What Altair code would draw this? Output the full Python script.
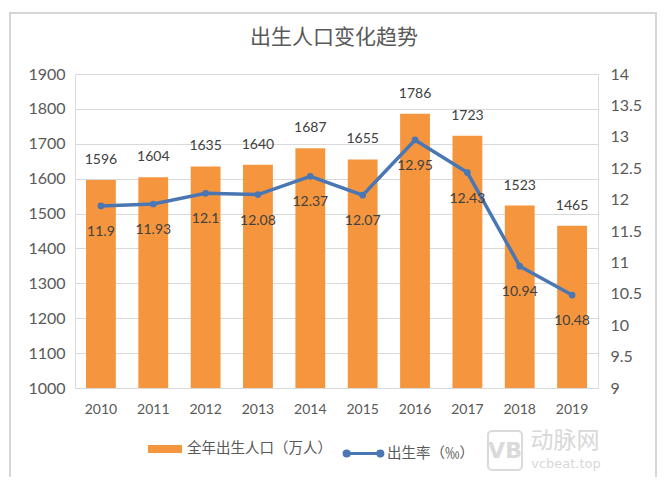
import altair as alt
import pandas as pd

years = ["2010", "2011", "2012", "2013", "2014", "2015", "2016", "2017", "2018", "2019"]
births = [1596, 1604, 1635, 1640, 1687, 1655, 1786, 1723, 1523, 1465]
rates = [11.9, 11.93, 12.1, 12.08, 12.37, 12.07, 12.95, 12.43, 10.94, 10.48]
left_ticks = [1000, 1100, 1200, 1300, 1400, 1500, 1600, 1700, 1800, 1900]
right_ticks = [9, 9.5, 10, 10.5, 11, 11.5, 12, 12.5, 13, 13.5, 14]
bar_name = "全年出生人口（万人）"
line_name = "出生率（‰）"
title_text = "出生人口变化趋势"

df = pd.DataFrame({
    "year": years,
    "births": births,
    "rate": rates,
    "rate_label": [str(r) for r in rates],
    "bar_series": [bar_name] * len(years),
    "line_series": [line_name] * len(years),
})

ORANGE = "#F5963F"
BLUE = "#4A77B4"
GRAY = "#595959"
NUM_FONT = "Lato"
CJK_FONT = "Noto Sans CJK SC"

x_enc = alt.X("year:N", title=None,
              scale=alt.Scale(paddingInner=0.43, paddingOuter=0.21),
              axis=alt.Axis(labelAngle=0, labelFontSize=14, labelColor=GRAY, labelFont=NUM_FONT,
                            domain=False, ticks=False, labelPadding=14, grid=False))

y_left = alt.Y("births:Q", title=None,
               scale=alt.Scale(domain=[1000, 1900], zero=False, nice=False),
               axis=alt.Axis(values=left_ticks, format="d", labelFontSize=16, labelColor=GRAY,
                             labelFont=NUM_FONT, domain=False, ticks=False, labelPadding=10,
                             grid=True, gridColor="#d9d9d9", gridWidth=1))

y_right = alt.Y("rate:Q", title=None,
                scale=alt.Scale(domain=[9, 14], zero=False, nice=False),
                axis=alt.Axis(orient="right", values=right_ticks, labelExpr="datum.value + ''",
                              labelFontSize=16, labelColor=GRAY, labelFont=NUM_FONT,
                              domain=False, ticks=False, labelPadding=12, grid=False))

base = alt.Chart(df)

bars = base.mark_bar(color=ORANGE).encode(
    x=x_enc,
    y=y_left,
    y2=alt.datum(1000),
    fill=alt.Fill("bar_series:N",
                  scale=alt.Scale(domain=[bar_name], range=[ORANGE]),
                  legend=alt.Legend(title=None, orient="none", legendX=73, legendY=358,
                                    symbolType="M-1,-0.24H1V0.24H-1Z", symbolSize=1156,
                                    symbolStrokeWidth=0, labelFontSize=14.5, labelColor=GRAY,
                                    labelFont=CJK_FONT, labelOffset=5, padding=0)),
)

bar_labels = base.mark_text(dy=-20, fontSize=14, color="#404040", font=NUM_FONT).encode(
    x=x_enc,
    y=y_left,
    text=alt.Text("births:Q", format="d"),
)

left_layer = alt.layer(bars, bar_labels)

line = base.mark_line(strokeWidth=3.5, color=BLUE).encode(
    x=x_enc,
    y=y_right,
    stroke=alt.Stroke("line_series:N",
                      scale=alt.Scale(domain=[line_name], range=[BLUE]),
                      legend=alt.Legend(title=None, orient="none", legendX=267, legendY=358,
                                        symbolType="M-1,0H1M-0.97,0A0.13,0.13,0,1,1,-0.71,0A0.13,0.13,0,1,1,-0.97,0ZM0.71,0A0.13,0.13,0,1,1,0.97,0A0.13,0.13,0,1,1,0.71,0Z",
                                        symbolSize=1600, symbolStrokeWidth=3,
                                        symbolFillColor=BLUE, labelFontSize=14.5, labelColor=GRAY,
                                        labelFont=CJK_FONT, labelOffset=2, padding=0)),
)

points = base.mark_point(filled=True, size=45, color=BLUE, opacity=1).encode(
    x=x_enc,
    y=y_right,
)

rate_labels = base.mark_text(dy=26, fontSize=14, color="#404040", font=NUM_FONT).encode(
    x=x_enc,
    y=y_right,
    text="rate_label:N",
)

right_layer = alt.layer(line, points, rate_labels)

deco_df = pd.DataFrame({"k": [0]})
frame = alt.Chart(deco_df).mark_rect(fill=None, stroke="#d6d6d6", strokeWidth=2, clip=False).encode(
    x=alt.value(-65), x2=alt.value(581), y=alt.value(-61), y2=alt.value(406)
)
title_mark = alt.Chart(deco_df).mark_text(text=title_text, fontSize=21, color=GRAY, font=CJK_FONT,
                                          align="center", baseline="middle").encode(
    x=alt.value(259), y=alt.value(-36)
)
wm_logo = alt.Chart(deco_df).mark_rect(fill=None, stroke="#dadada", strokeWidth=2,
                                       cornerRadius=4, clip=False).encode(
    x=alt.value(413), x2=alt.value(447), y=alt.value(357), y2=alt.value(396)
)
wm_vb = alt.Chart(deco_df).mark_text(text="VB", fontSize=22, fontWeight="bold", color="#dadada",
                                     font="DejaVu Sans").encode(x=alt.value(430), y=alt.value(377))
wm_cn = alt.Chart(deco_df).mark_text(text="动脉网", fontSize=23, color="#d8d8d8",
                                     font=CJK_FONT).encode(x=alt.value(490), y=alt.value(367))
wm_en = alt.Chart(deco_df).mark_text(text="vcbeat.top", fontSize=13, color="#d8d8d8",
                                     font="DejaVu Sans").encode(x=alt.value(491), y=alt.value(390))

chart = alt.layer(left_layer, right_layer, frame, title_mark, wm_logo, wm_vb, wm_cn, wm_en).resolve_scale(
    y="independent", fill="independent", stroke="independent"
).properties(
    width=523, height=314,
    autosize=alt.AutoSizeParams(type="none"),
    padding={"left": 67, "top": 66, "right": 62, "bottom": 89},
).configure_view(strokeWidth=0).configure(background="white")

chart.save("out.html", embed_options={"renderer": "svg", "actions": False})
